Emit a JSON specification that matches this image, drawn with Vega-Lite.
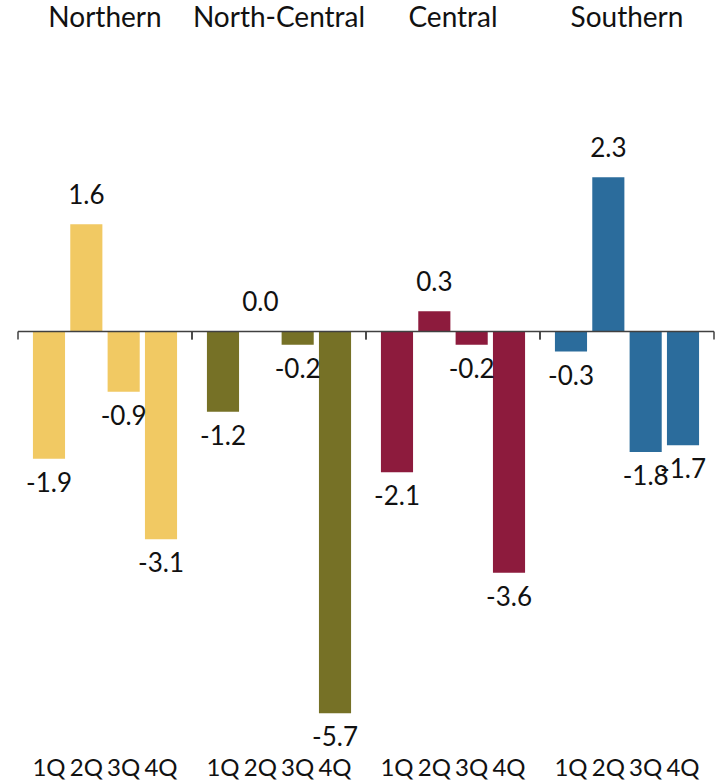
{
  "$schema": "https://vega.github.io/schema/vega-lite/v6.json",
  "padding": {"left": 17, "top": 5, "right": 5, "bottom": 0},
  "background": "white",
  "bounds": "flush",
  "config": {
    "font": "Lato",
    "view": {"stroke": null},
    "locale": {"number": {"decimal": ".", "thousands": ",", "grouping": [3], "currency": ["$", ""], "minus": "-"}}
  },
  "data": {
    "values": [
      {"region": "Northern", "quarter": "1Q", "value": -1.9},
      {"region": "Northern", "quarter": "2Q", "value": 1.6},
      {"region": "Northern", "quarter": "3Q", "value": -0.9},
      {"region": "Northern", "quarter": "4Q", "value": -3.1},
      {"region": "North-Central", "quarter": "1Q", "value": -1.2},
      {"region": "North-Central", "quarter": "2Q", "value": 0.0},
      {"region": "North-Central", "quarter": "3Q", "value": -0.2},
      {"region": "North-Central", "quarter": "4Q", "value": -5.7},
      {"region": "Central", "quarter": "1Q", "value": -2.1},
      {"region": "Central", "quarter": "2Q", "value": 0.3},
      {"region": "Central", "quarter": "3Q", "value": -0.2},
      {"region": "Central", "quarter": "4Q", "value": -3.6},
      {"region": "Southern", "quarter": "1Q", "value": -0.3},
      {"region": "Southern", "quarter": "2Q", "value": 2.3},
      {"region": "Southern", "quarter": "3Q", "value": -1.8},
      {"region": "Southern", "quarter": "4Q", "value": -1.7}
    ]
  },
  "facet": {
    "column": {
      "field": "region",
      "type": "nominal",
      "sort": ["Northern", "North-Central", "Central", "Southern"],
      "header": {"title": null, "labelFontSize": 28, "labelColor": "#111111", "labelPadding": 15, "labelFont": "Lato"}
    }
  },
  "spacing": 0,
  "spec": {
    "width": 174,
    "height": 675.4,
    "layer": [
      {
        "mark": {"type": "bar"},
        "encoding": {
          "x": {
            "field": "quarter", "type": "ordinal",
            "scale": {"paddingInner": 0.14, "paddingOuter": 0.4},
            "axis": {"title": null, "domain": false, "ticks": false, "labelFontSize": 24, "labelPadding": 32, "labelColor": "#111111", "labelAngle": 0, "labelFont": "Lato", "labelOverlap": false}
          },
          "y": {"field": "value", "type": "quantitative", "scale": {"domain": [-5.85, 4.23], "nice": false}, "axis": null},
          "color": {
            "field": "region", "type": "nominal",
            "scale": {"domain": ["Northern", "North-Central", "Central", "Southern"], "range": ["#F1C963", "#767126", "#8D1B3D", "#2B6C9C"]},
            "legend": null
          }
        }
      },
      {
        "transform": [{"filter": "datum.value >= 0"}],
        "mark": {"type": "text", "baseline": "middle", "dy": -28, "fontSize": 26, "color": "#111111"},
        "encoding": {
          "x": {"field": "quarter", "type": "ordinal"},
          "y": {"field": "value", "type": "quantitative"},
          "text": {"field": "value", "type": "quantitative", "format": ".1f"}
        }
      },
      {
        "transform": [{"filter": "datum.value < 0"}],
        "mark": {"type": "text", "baseline": "middle", "dy": 25, "fontSize": 26, "color": "#111111"},
        "encoding": {
          "x": {"field": "quarter", "type": "ordinal"},
          "y": {"field": "value", "type": "quantitative"},
          "text": {"field": "value", "type": "quantitative", "format": ".1f"}
        }
      },
      {
        "transform": [{"filter": "datum.quarter == '1Q'"}],
        "mark": {"type": "rule", "color": "#404040", "strokeWidth": 1.5},
        "encoding": {"y": {"datum": 0}}
      },
      {
        "transform": [{"filter": "datum.quarter == '1Q'"}],
        "mark": {"type": "rule", "color": "#404040", "strokeWidth": 1.5},
        "encoding": {"x": {"value": 0}, "y": {"datum": 0}, "y2": {"datum": -0.12}}
      },
      {
        "transform": [{"filter": "datum.quarter == '1Q'"}],
        "mark": {"type": "rule", "color": "#404040", "strokeWidth": 1.5},
        "encoding": {"x": {"value": "width"}, "y": {"datum": 0}, "y2": {"datum": -0.12}}
      }
    ]
  }
}
